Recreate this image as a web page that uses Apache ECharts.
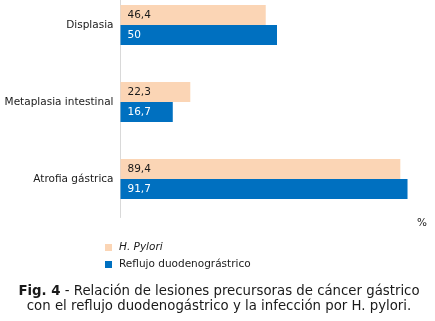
<!DOCTYPE html>
<html>
<head>
<meta charset="utf-8">
<script src="https://cdn.jsdelivr.net/npm/echarts@6/dist/echarts.min.js"></script>
<style>
html,body{margin:0;padding:0;background:#fff;}
#chart{width:435px;height:321px;}
</style>
</head>
<body>
<div id="chart"></div>
<script>
// Lesion categories, listed top to bottom
const categories = ['Displasia', 'Metaplasia intestinal', 'Atrofia gástrica'];
// Percentages per group
const hPylori = [46.4, 22.3, 89.4];
const reflujo = [50, 16.7, 91.7];
const seriesNames = ['H. Pylori', 'Reflujo duodenográstrico'];
const captionLines = [
  'Relación de lesiones precursoras de cáncer gástrico',
  'con el reflujo duodenogástrico y la infección por H. pylori.'
];

const FONT = '"DejaVu Sans", Verdana, sans-serif';
const fmt = p => String(p.value).replace('.', ',');

const chart = echarts.init(document.getElementById('chart'), null, { renderer: 'canvas' });
chart.setOption({
  animation: false,
  backgroundColor: '#ffffff',
  textStyle: { fontFamily: FONT },
  grid: { left: 120.5, top: -13.5, width: 313, height: 231, containLabel: false, outerBoundsMode: 'none' },
  xAxis: {
    type: 'value', min: 0, max: 100,
    axisLine: { show: false }, axisTick: { show: false },
    axisLabel: { show: false }, splitLine: { show: false }
  },
  yAxis: {
    type: 'category', inverse: true, data: categories,
    axisLine: { show: true, lineStyle: { color: '#d9d9d9', width: 1 } },
    axisTick: { show: false },
    axisLabel: { color: '#1a1a1a', fontSize: 10.5, fontFamily: FONT, margin: 7 }
  },
  legend: {
    orient: 'vertical', left: 100, top: 237,
    itemWidth: 7, itemHeight: 7, itemGap: 6,
    icon: 'rect',
    data: seriesNames,
    formatter: name => name === 'H. Pylori' ? '{i|' + name + '}' : name,
    textStyle: {
      color: '#1a1a1a', fontSize: 10.5, fontFamily: FONT, padding: [0, 0, 0, 2],
      rich: { i: { fontStyle: 'italic', fontSize: 10.5, fontFamily: FONT, color: '#1a1a1a' } }
    }
  },
  series: [
    {
      name: seriesNames[0], type: 'bar', data: hPylori,
      barWidth: 20, barGap: '0%',
      itemStyle: { color: '#FBD5B5' },
      label: { show: true, position: 'insideLeft', distance: 7, color: '#1a1a1a',
               fontSize: 10.5, fontFamily: FONT, formatter: fmt }
    },
    {
      name: seriesNames[1], type: 'bar', data: reflujo,
      barWidth: 20, barGap: '0%',
      itemStyle: { color: '#0070C0' },
      label: { show: true, position: 'insideLeft', distance: 7, color: '#ffffff',
               fontSize: 10.5, fontFamily: FONT, formatter: fmt }
    }
  ],
  graphic: [
    { type: 'text', left: 417, top: 218,
      style: { text: '%', fill: '#1a1a1a', font: '10.5px ' + FONT } },
    { type: 'text', x: 219, y: 292,
      style: {
        text: '{b|Fig. 4} - ' + captionLines[0],
        align: 'center', verticalAlign: 'middle',
        fill: '#1a1a1a', fontSize: 13.3, fontFamily: FONT,
        rich: { b: { fontWeight: 'bold', fontSize: 13.3, fontFamily: FONT, fill: '#1a1a1a' } }
      } },
    { type: 'text', x: 219, y: 307,
      style: {
        text: captionLines[1],
        align: 'center', verticalAlign: 'middle',
        fill: '#1a1a1a', fontSize: 13.3, fontFamily: FONT
      } }
  ]
});
</script>
</body>
</html>
